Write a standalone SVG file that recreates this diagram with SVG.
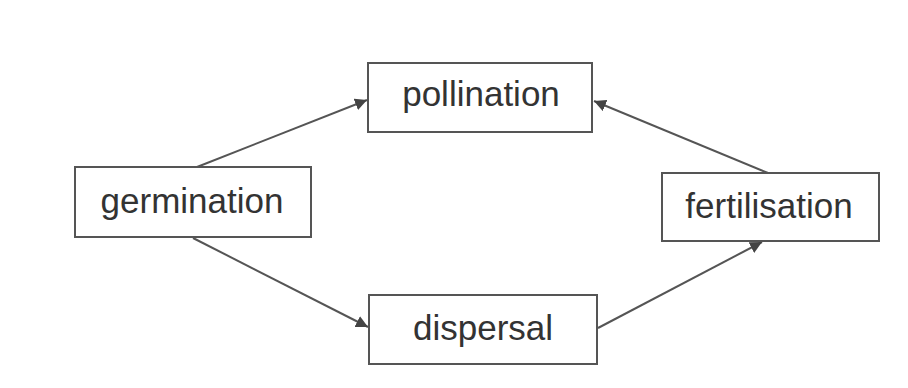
<svg xmlns="http://www.w3.org/2000/svg" width="908" height="388" viewBox="0 0 908 388">
<style>
.box{fill:#fff;stroke:#555;stroke-width:2}
.lbl{font-family:"Liberation Sans",Arial,sans-serif;font-size:35px;fill:#333;text-anchor:middle}
.con{stroke:#555;stroke-width:2;fill:none;marker-end:url(#ah)}
</style>
<defs>
<marker id="ah" viewBox="0 0 10 10" refX="10" refY="5" markerWidth="6" markerHeight="6" markerUnits="strokeWidth" orient="auto">
<path d="M0,0 L10,5 L0,10 z" fill="#444"/>
</marker>
</defs>
<rect width="908" height="388" fill="#fff"/>
<g id="connectors">
<line class="con" x1="197" y1="167" x2="367" y2="100"/>
<line class="con" x1="768" y1="173" x2="594" y2="101"/>
<line class="con" x1="193" y1="238" x2="368" y2="327"/>
<line class="con" x1="598" y1="328" x2="762" y2="242"/>
</g>
<g id="pollination">
<rect class="box" x="368" y="63" width="224" height="69"/>
<text class="lbl" x="481" y="106">pollination</text>
</g>
<g id="germination">
<rect class="box" x="75" y="167" width="236" height="70"/>
<text class="lbl" x="192" y="213">germination</text>
</g>
<g id="fertilisation">
<rect class="box" x="662" y="173" width="217" height="68"/>
<text class="lbl" x="769" y="218">fertilisation</text>
</g>
<g id="dispersal">
<rect class="box" x="369" y="295" width="228" height="69"/>
<text class="lbl" x="483" y="340">dispersal</text>
</g>
</svg>
